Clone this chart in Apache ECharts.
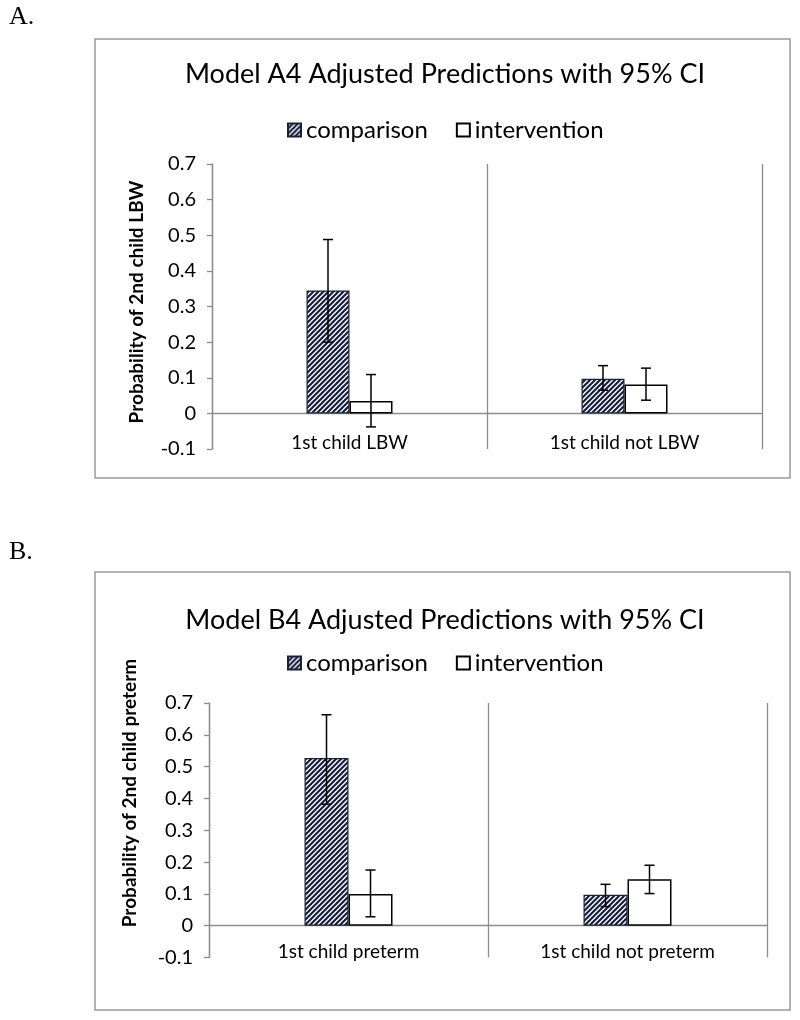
<!DOCTYPE html>
<html>
<head>
<meta charset="utf-8">
<script src="https://cdn.jsdelivr.net/npm/echarts@6/dist/echarts.min.js"></script>
<style>
html,body{margin:0;padding:0;background:#fff;}
#chart{width:800px;height:1020px;}
</style>
</head>
<body>
<div id="chart"></div>
<script>
// ---- Data ----
var seriesNames = ['comparison', 'intervention'];
var yTicks = [-0.1, 0, 0.1, 0.2, 0.3, 0.4, 0.5, 0.6, 0.7];

var categoriesA = ['1st child LBW', '1st child not LBW'];
var comparisonA = [0.345, 0.097];
var interventionA = [0.035, 0.081];
var comparisonA_CI = [[0.200, 0.488], [0.065, 0.134]];
var interventionA_CI = [[-0.038, 0.109], [0.037, 0.127]];

var categoriesB = ['1st child preterm', '1st child not preterm'];
var comparisonB = [0.527, 0.097];
var interventionB = [0.100, 0.146];
var comparisonB_CI = [[0.382, 0.663], [0.060, 0.130]];
var interventionB_CI = [[0.028, 0.175], [0.101, 0.190]];

var titleA = 'Model A4 Adjusted Predictions with 95% CI';
var titleB = 'Model B4 Adjusted Predictions with 95% CI';
var yNameA = 'Probability of 2nd child LBW';
var yNameB = 'Probability of 2nd child preterm';

// ---- Hatch pattern ----
function makeHatch() {
  var s = 5;
  var c = document.createElement('canvas');
  c.width = s; c.height = s;
  var ctx = c.getContext('2d');
  ctx.fillStyle = '#ffffff';
  ctx.fillRect(0, 0, s, s);
  ctx.strokeStyle = '#18213a';
  ctx.lineWidth = 2.2;
  ctx.beginPath();
  ctx.moveTo(-1, s + 1); ctx.lineTo(s + 1, -1);
  ctx.moveTo(-1, 1); ctx.lineTo(1, -1);
  ctx.moveTo(s - 1, s + 1); ctx.lineTo(s + 1, s - 1);
  ctx.stroke();
  return c;
}
var hatch = { image: makeHatch(), repeat: 'repeat' };

var FONT = 'Lato';
var GRAY = '#8c8c8c';

function ciData(ci) {
  return ci.map(function (d, i) { return [i, d[0], d[1]]; });
}

function errorSeries(name, ci, gridIdx, offset) {
  return {
    name: name + ' CI',
    type: 'custom',
    xAxisIndex: gridIdx, yAxisIndex: gridIdx,
    z: 5,
    silent: true,
    data: ciData(ci),
    renderItem: function (params, api) {
      var i = api.value(0);
      var lo = api.coord([i, api.value(1)]);
      var hi = api.coord([i, api.value(2)]);
      var x = lo[0] + offset;
      var cap = 5;
      var st = { stroke: '#000', lineWidth: 1.5 };
      return {
        type: 'group',
        children: [
          { type: 'line', shape: { x1: x, y1: lo[1], x2: x, y2: hi[1] }, style: st },
          { type: 'line', shape: { x1: x - cap, y1: lo[1], x2: x + cap, y2: lo[1] }, style: st },
          { type: 'line', shape: { x1: x - cap, y1: hi[1], x2: x + cap, y2: hi[1] }, style: st }
        ]
      };
    }
  };
}

function xAxisCfg(cats, gridIdx, margin) {
  return {
    type: 'category', gridIndex: gridIdx, data: cats,
    axisLine: { onZero: true, lineStyle: { color: GRAY, width: 1.3 } },
    axisTick: { show: false },
    splitLine: { show: true, interval: 0, lineStyle: { color: GRAY, width: 1.3 } },
    axisLabel: { margin: margin, color: '#000', fontFamily: FONT, fontSize: 19 }
  };
}
function yAxisCfg(gridIdx) {
  return {
    type: 'value', gridIndex: gridIdx,
    min: yTicks[0], max: yTicks[yTicks.length - 1], interval: 0.1,
    axisLine: { show: true, onZero: false, lineStyle: { color: GRAY, width: 1.3 } },
    axisTick: { show: true, length: 5, lineStyle: { color: GRAY, width: 1.3 } },
    splitLine: { show: false },
    axisLabel: { margin: 16, color: '#000', fontFamily: FONT, fontSize: 20,
      formatter: function (v) { return String(Math.round(v * 10) / 10); } }
  };
}
function barSeries(name, data, gridIdx, width) {
  var isComp = name === 'comparison';
  return {
    name: name, type: 'bar', xAxisIndex: gridIdx, yAxisIndex: gridIdx,
    data: data, barWidth: width, barGap: '0%',
    itemStyle: isComp
      ? { color: hatch, borderColor: '#18213a', borderWidth: 1.2 }
      : { color: '#ffffff', borderColor: '#000', borderWidth: 1.5 },
    emphasis: { disabled: true }
  };
}
function legendCfg(top) {
  return {
    data: seriesNames, left: 287, top: top, padding: 0,
    icon: 'rect', itemWidth: 13, itemHeight: 13, itemGap: 28,
    textStyle: { fontFamily: FONT, fontSize: 24, color: '#000' },
    selectedMode: false
  };
}

var option = {
  animation: false,
  backgroundColor: '#fff',
  title: [
    { text: titleA, left: 440, top: 56, textAlign: 'center',
      textStyle: { fontFamily: FONT, fontSize: 27, fontWeight: 'normal', color: '#000' } },
    { text: titleB, left: 440, top: 602, textAlign: 'center',
      textStyle: { fontFamily: FONT, fontSize: 27, fontWeight: 'normal', color: '#000' } }
  ],
  legend: [legendCfg(118), legendCfg(651)],
  grid: [
    { left: 212, right: 38, top: 164, height: 285, containLabel: false },
    { left: 209, right: 33, top: 703, height: 254.5, containLabel: false }
  ],
  xAxis: [xAxisCfg(categoriesA, 0, -16), xAxisCfg(categoriesB, 1, -15)],
  yAxis: [yAxisCfg(0), yAxisCfg(1)],
  series: [
    barSeries('comparison', comparisonA, 0, 43),
    barSeries('intervention', interventionA, 0, 43),
    barSeries('comparison', comparisonB, 1, 44),
    barSeries('intervention', interventionB, 1, 44),
    errorSeries('comparison', comparisonA_CI, 0, -21.5),
    errorSeries('intervention', interventionA_CI, 0, 21.5),
    errorSeries('comparison', comparisonB_CI, 1, -22),
    errorSeries('intervention', interventionB_CI, 1, 22)
  ],
  graphic: [
    { type: 'rect', shape: { x: 95, y: 39, width: 695, height: 439 },
      style: { fill: 'none', stroke: '#9a9a9a', lineWidth: 1.5 }, z: -1 },
    { type: 'rect', shape: { x: 95, y: 572, width: 695, height: 438 },
      style: { fill: 'none', stroke: '#9a9a9a', lineWidth: 1.5 }, z: -1 },
    { type: 'text', left: 9, top: 4,
      style: { text: 'A.', font: '26px "Liberation Serif"', fill: '#000' } },
    { type: 'text', left: 9, top: 539,
      style: { text: 'B.', font: '26px "Liberation Serif"', fill: '#000' } },
    { type: 'text', x: 137, y: 302, rotation: Math.PI / 2,
      style: { text: yNameA, font: 'bold 19px Lato', fill: '#000', textAlign: 'center', textVerticalAlign: 'middle' } },
    { type: 'text', x: 130, y: 793, rotation: Math.PI / 2,
      style: { text: yNameB, font: 'bold 19px Lato', fill: '#000', textAlign: 'center', textVerticalAlign: 'middle' } }
  ]
};

var chart = echarts.init(document.getElementById('chart'), null, { renderer: 'canvas' });
chart.setOption(option);
</script>
</body>
</html>
